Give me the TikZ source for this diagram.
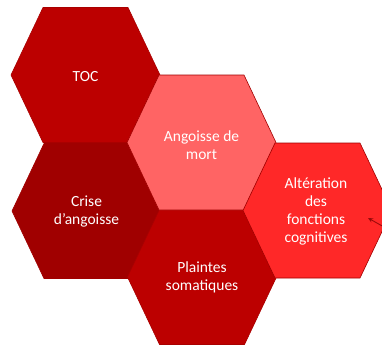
\documentclass[tikz,border=0pt]{standalone}
\usepackage{fontspec}
\setmainfont{Carlito}
\usetikzlibrary{arrows.meta}
\definecolor{cToc}{HTML}{BC0000}
\definecolor{cCrise}{HTML}{A00000}
\definecolor{cAng}{HTML}{FF6464}
\definecolor{cAlt}{HTML}{FF2828}
\definecolor{cPl}{HTML}{BC0000}
\definecolor{cEdge}{HTML}{A00000}
\definecolor{cArrow}{HTML}{9A0A0A}
\tikzset{
  hexlabel/.style={text=white, align=center, font=\fontsize{15.5}{18}\selectfont, inner sep=0pt},
  hexfill/.style={line width=0.6pt, line join=miter},
}
\newcommand{\hexat}[3]{% center x, center y, options
  \path[hexfill,#3] (#1-74.5,#2) -- (#1-42.5,#2+67.5) -- (#1+42.5,#2+67.5) -- (#1+74.5,#2) -- (#1+42.5,#2-67.5) -- (#1-42.5,#2-67.5) -- cycle;}
\begin{document}
\begin{tikzpicture}[x=1pt,y=-1pt]
\useasboundingbox (0,0) rectangle (382,345);
\begin{scope}
\clip (0,0) rectangle (382,345);
\hexat{85.5}{75}{fill=cToc,draw=cToc!90!black}
\hexat{86.5}{211}{fill=cCrise,draw=cCrise}
\hexat{202}{277}{fill=cPl,draw=cPl!90!black}
\hexat{201.5}{142.5}{fill=cAng,draw=cEdge}
\hexat{317.5}{210.5}{fill=cAlt,draw=cEdge}
\end{scope}
\node[hexlabel] (toc) at (85.5,77) {TOC};
\node[hexlabel] (ang) at (201.5,145) {Angoisse de\\mort};
\node[hexlabel] (crise) at (86.5,211) {Crise\\d’angoisse};
\node[hexlabel] (pl) at (202,277) {Plaintes\\somatiques};
\node[hexlabel] (alt) at (316,211.5) {Altération\\des\\fonctions\\cognitives};
\coordinate (arrtip) at (368,218);
\coordinate (arrend) at (384,227);
\draw[cArrow, line width=0.9pt, -{Stealth[length=5pt,width=4.5pt]}] (arrend) -- (arrtip);
\end{tikzpicture}
\end{document}
